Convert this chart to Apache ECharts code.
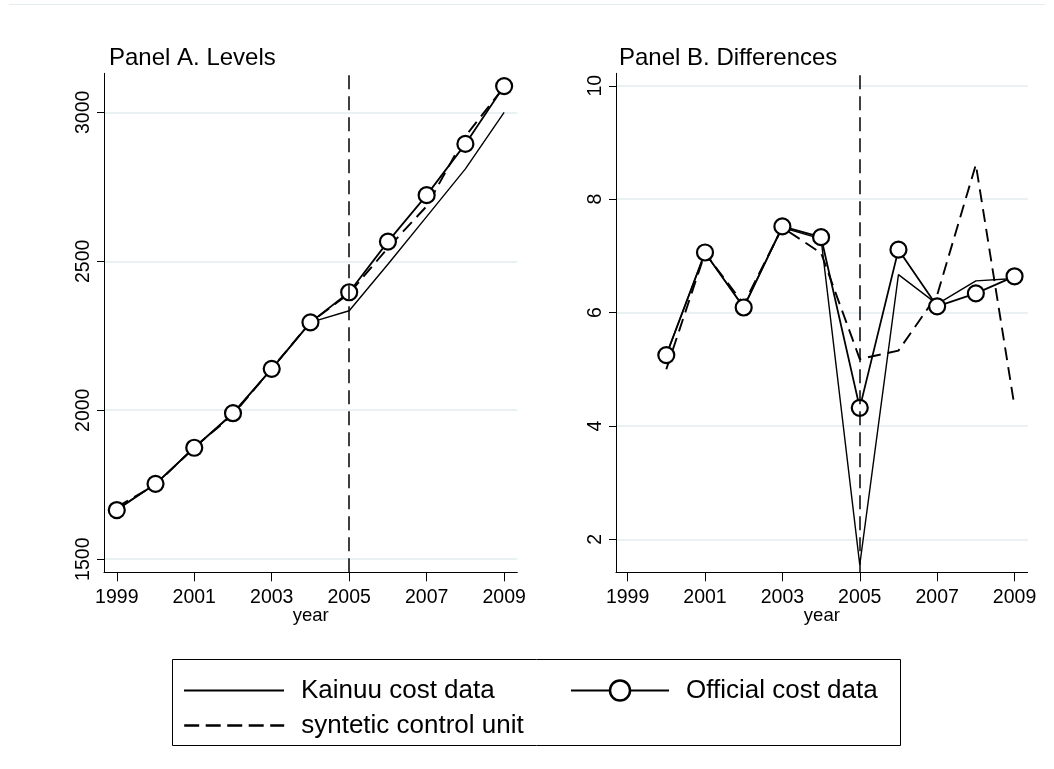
<!DOCTYPE html>
<html>
<head>
<meta charset="utf-8">
<script src="https://cdn.jsdelivr.net/npm/echarts@6/dist/echarts.min.js"></script>
<style>
html,body{margin:0;padding:0;background:#fff;}
#chart{width:1054px;height:769px;}
</style>
</head>
<body>
<div id="chart"></div>
<script>
// ---- data ----
const levelYears = [1999, 2000, 2001, 2002, 2003, 2004, 2005, 2006, 2007, 2008, 2009];
const levelKainuu = [1668, 1752, 1874, 1988, 2139, 2295, 2334, 2490, 2650, 2810, 3000];
const levelOfficial = [1665, 1753, 1874, 1990, 2139, 2295, 2396, 2566, 2722, 2894, 3088];
const levelSynthetic = [1675, 1750, 1875, 1985, 2140, 2295, 2392, 2545, 2685, 2920, 3085];

const diffYears = [2000, 2001, 2002, 2003, 2004, 2005, 2006, 2007, 2008, 2009];
const diffKainuu = [5.25, 7.05, 6.1, 7.5, 7.3, 1.55, 6.67, 6.15, 6.56, 6.6];
const diffOfficial = [5.25, 7.06, 6.09, 7.52, 7.33, 4.32, 7.11, 6.11, 6.34, 6.64];
const diffSynthetic = [5.0, 7.05, 6.15, 7.5, 7.05, 5.18, 5.33, 6.31, 8.61, 4.34];

const xTicks = [1999, 2001, 2003, 2005, 2007, 2009];
const levelTicks = [1500, 2000, 2500, 3000];
const diffTicks = [2, 4, 6, 8, 10];
const treatYear = 2005;

const names = ['Kainuu cost data', 'Official cost data', 'syntetic control unit'];
const titles = ['Panel A. Levels', 'Panel B. Differences'];
const xName = 'year';

// ---- chart ----
const FONT = 'Liberation Sans, Arial, Helvetica, sans-serif';
const pair = (xs, ys) => xs.map((x, i) => [x, ys[i]]);
const grid = '#e3ecef';

function xAxis(gridIndex, min) {
  return {
    type: 'value', gridIndex: gridIndex, min: min, max: 2009.34,
    name: xName, nameLocation: 'middle', nameGap: 34, nameMoveOverlap: false,
    nameTextStyle: {color: '#000', fontSize: 18.5, fontFamily: FONT},
    axisLine: {show: true, onZero: false, lineStyle: {color: '#000', width: 1}},
    axisTick: {show: true, length: 9, customValues: xTicks, lineStyle: {color: '#000', width: 1}},
    axisLabel: {customValues: xTicks, color: '#000', fontSize: 19.5, fontFamily: FONT, margin: 15,
      formatter: v => String(v)},
    splitLine: {show: false}
  };
}
function yAxis(gridIndex, min, max, ticks) {
  return {
    type: 'value', gridIndex: gridIndex, min: min, max: max,
    axisLine: {show: true, lineStyle: {color: '#000', width: 1}},
    axisTick: {show: true, length: 7, customValues: ticks, lineStyle: {color: '#000', width: 1}},
    axisLabel: {customValues: ticks, rotate: 90, color: '#000', fontSize: 19.5, fontFamily: FONT, margin: 10,
      formatter: v => String(v)},
    splitLine: {show: true, lineStyle: {color: grid, width: 1.5}}
  };
}
function vline() {
  return {
    silent: true, symbol: ['none', 'none'], animation: false,
    label: {show: false},
    lineStyle: {color: '#000', width: 1.5, type: [14, 7]},
    data: [{xAxis: treatYear}]
  };
}
function seriesSet(idx, years, k, o, s) {
  return [
    {name: names[0], type: 'line', xAxisIndex: idx, yAxisIndex: idx, data: pair(years, k),
      symbol: 'none', lineStyle: {color: '#000', width: 1.4}, itemStyle: {color: '#000'},
      markLine: vline(), z: 2},
    {name: names[2], type: 'line', xAxisIndex: idx, yAxisIndex: idx, data: pair(years, s),
      symbol: 'none', lineStyle: {color: '#000', width: 1.9, type: [13, 7]}, itemStyle: {color: '#000'}, z: 3},
    {name: names[1], type: 'line', xAxisIndex: idx, yAxisIndex: idx, data: pair(years, o),
      symbol: 'circle', symbolSize: 16, showSymbol: true,
      lineStyle: {color: '#000', width: 1.8},
      itemStyle: {color: '#fff', borderColor: '#000', borderWidth: 2.2}, z: 4}
  ];
}
function legend(name, left, top, width, extra) {
  return Object.assign({
    data: [name], left: left, top: top, padding: 0, orient: 'horizontal',
    itemWidth: width, itemHeight: 25, selectedMode: false,
    textStyle: {color: '#000', fontSize: 26, fontFamily: FONT, padding: [0, 0, 0, 12]}
  }, extra || {});
}

const chart = echarts.init(document.getElementById('chart'), null, {renderer: 'canvas'});
chart.setOption({
  backgroundColor: '#fff',
  animation: false,
  title: [
    {text: titles[0], left: 109, top: 46, padding: 0, textStyle: {color: '#000', fontSize: 24, fontWeight: 'normal', fontFamily: FONT}},
    {text: titles[1], left: 619, top: 46, padding: 0, textStyle: {color: '#000', fontSize: 24, fontWeight: 'normal', fontFamily: FONT}}
  ],
  grid: [
    {left: 104, top: 73.3, width: 413.3, height: 499, containLabel: false},
    {left: 616, top: 73.3, width: 411.7, height: 499, containLabel: false}
  ],
  xAxis: [xAxis(0, 1998.67), xAxis(1, 1998.7)],
  yAxis: [yAxis(0, 1456, 3131, levelTicks), yAxis(1, 1.42, 10.22, diffTicks)],
  legend: [
    legend(names[0], 183, 677.5, 100, {itemStyle: {opacity: 0}, lineStyle: {width: 2}}),
    legend(names[1], 570, 677.5, 98, {itemStyle: {borderWidth: 2.5}, lineStyle: {width: 2}}),
    legend(names[2], 183, 712.5, 100, {itemStyle: {opacity: 0}, lineStyle: {width: 2.4, type: [15, 6.5]}})
  ],
  graphic: [
    {type: 'rect', silent: true, shape: {x: 172.5, y: 659.5, width: 728, height: 86},
      style: {fill: 'none', stroke: '#000', lineWidth: 1}},
    {type: 'line', silent: true, shape: {x1: 9, y1: 4.5, x2: 1045, y2: 4.5},
      style: {stroke: '#e4ecf0', lineWidth: 1}}
  ],
  series: [].concat(
    seriesSet(0, levelYears, levelKainuu, levelOfficial, levelSynthetic),
    seriesSet(1, diffYears, diffKainuu, diffOfficial, diffSynthetic)
  )
});
</script>
</body>
</html>
